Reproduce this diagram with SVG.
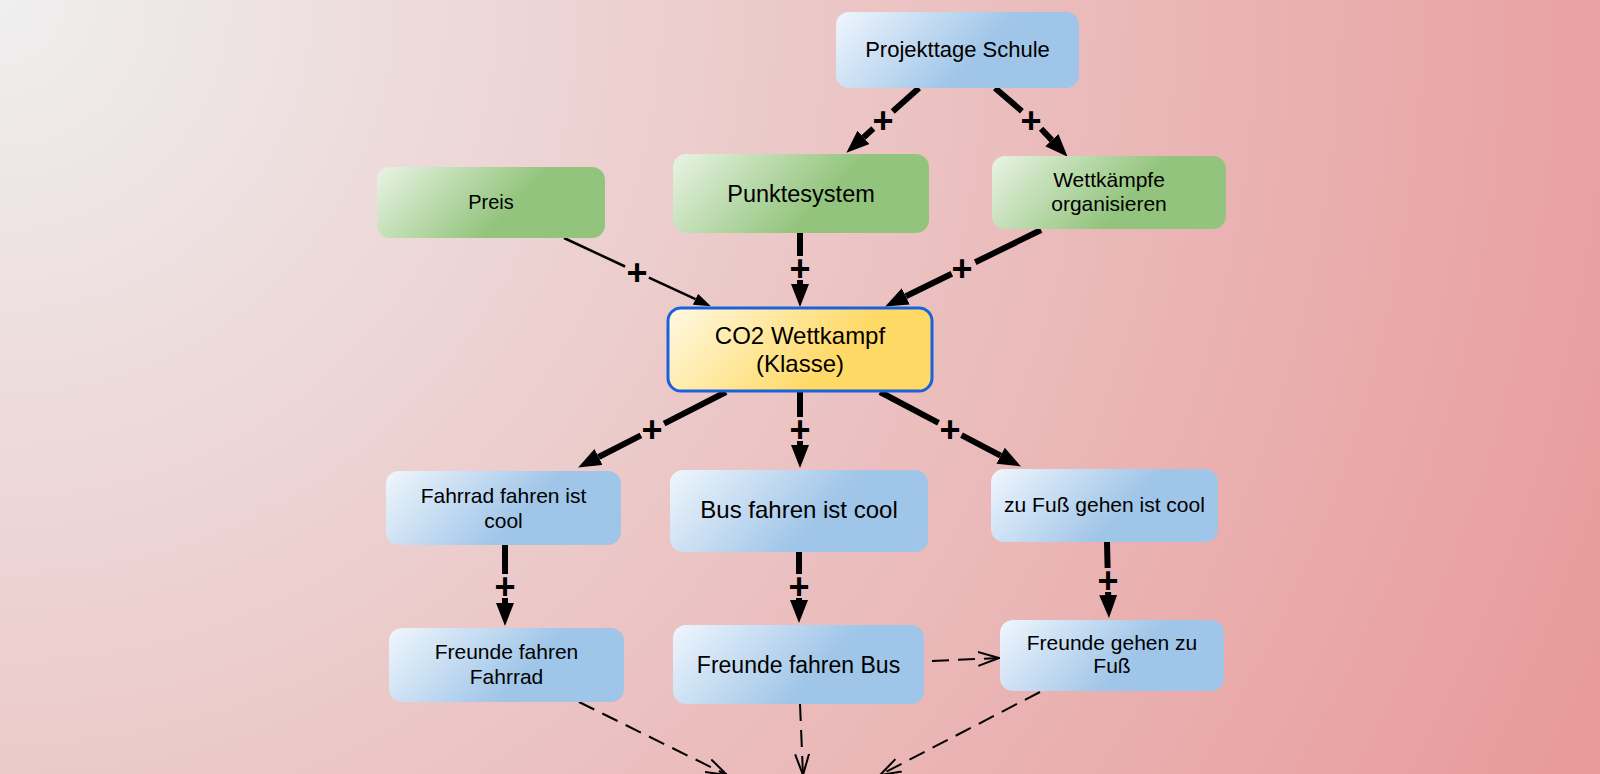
<svg xmlns="http://www.w3.org/2000/svg" width="1600" height="774" viewBox="0 0 1600 774">
<defs>
<radialGradient id="bg" gradientUnits="userSpaceOnUse" cx="0" cy="0" r="1850">
<stop offset="0" stop-color="#efefef"/>
<stop offset="1" stop-color="#e89595"/>
</radialGradient>
<linearGradient id="gBlue" x1="0" y1="0" x2="1" y2="0.3">
<stop offset="0" stop-color="#f0f6fd"/>
<stop offset="0.7" stop-color="#9fc5e8"/>
<stop offset="1" stop-color="#9fc5e8"/>
</linearGradient>
<linearGradient id="gGreen" x1="0" y1="0" x2="1" y2="0.3">
<stop offset="0" stop-color="#e9f4e4"/>
<stop offset="0.7" stop-color="#93c47d"/>
<stop offset="1" stop-color="#93c47d"/>
</linearGradient>
<linearGradient id="gYellow" x1="0" y1="0" x2="1" y2="0.3">
<stop offset="0" stop-color="#fff9e3"/>
<stop offset="0.75" stop-color="#ffd966"/>
<stop offset="1" stop-color="#ffd966"/>
</linearGradient>
<marker id="arr" markerUnits="userSpaceOnUse" markerWidth="24" markerHeight="18" refX="0" refY="9" orient="auto" viewBox="0 0 24 18">
<path d="M0,0 L23,9 L0,18 z" fill="#000"/>
</marker>
<marker id="arrS" markerUnits="userSpaceOnUse" markerWidth="18" markerHeight="14" refX="0" refY="7" orient="auto" viewBox="0 0 18 14">
<path d="M0,1 L17,7 L0,13 z" fill="#000"/>
</marker>
<marker id="open" markerUnits="userSpaceOnUse" markerWidth="24" markerHeight="18" refX="21" refY="9" orient="auto" viewBox="0 0 24 18">
<path d="M0,2 L21,9 L0,16" fill="none" stroke="#000" stroke-width="2"/>
</marker>
<style>
.n text{font-family:"Liberation Sans",Arial,sans-serif;fill:#000;text-anchor:middle}
.b rect{fill:url(#gBlue)}
.g rect{fill:url(#gGreen)}
.thick{fill:none;stroke:#000;stroke-width:6;marker-end:url(#arr)}
.thin{fill:none;stroke:#000;stroke-width:2.5;marker-end:url(#arrS)}
.dash{fill:none;stroke:#000;stroke-width:2;stroke-dasharray:17 9;marker-end:url(#open)}
.lbl{font-family:"Liberation Sans",Arial,sans-serif;font-weight:bold;font-size:36px;text-anchor:middle;fill:#000}
</style>
</defs>
<rect x="0" y="0" width="1600" height="774" fill="url(#bg)"/>

<g id="connectors">
<path class="thick" d="M919,88 L892.7,111.4 M873.3,128.6 L863.5,137.4"/>
<text class="lbl" x="883" y="133">+</text>
<path class="thick" d="M995,88 L1021.9,111.2 M1041.1,128.8 L1051.8,140.1"/>
<text class="lbl" x="1031" y="133">+</text>
<path class="thin" d="M564,238 L625.1,266.5 M648.9,277.6 L695.5,299.2"/>
<text class="lbl" x="637" y="285">+</text>
<path class="thick" d="M800,233 L800,256 M800,280 L800,284"/>
<text class="lbl" x="800" y="281">+</text>
<path class="thick" d="M1041,230 L975.2,262.3 M951.8,273.7 L905.8,296.3"/>
<text class="lbl" x="962" y="281">+</text>
<path class="thick" d="M726,392 L664.1,423.6 M640.9,435.4 L598.6,457"/>
<text class="lbl" x="652" y="442">+</text>
<path class="thick" d="M800,392 L800,417 M800,441 L800,445"/>
<text class="lbl" x="800" y="442">+</text>
<path class="thick" d="M880,392 L938.5,422.9 M961.5,435.1 L1000.6,455.7"/>
<text class="lbl" x="950" y="442">+</text>
<path class="thick" d="M505,545 L505,574 M505,598 L505,603"/>
<text class="lbl" x="505" y="599">+</text>
<path class="thick" d="M799,552 L799,574 M799,598 L799,600"/>
<text class="lbl" x="799" y="599">+</text>
<path class="thick" d="M1107,542 L1107.6,568 M1108.1,592 L1108.2,595"/>
<text class="lbl" x="1108" y="593">+</text>
<path class="dash" d="M932,661 L999,658"/>
<path class="dash" d="M579,702 L727,775"/>
<path class="dash" d="M800,704 L803,775"/>
<path class="dash" d="M1040,692 L880,775"/>
</g>

<g id="n-projekttage" class="n b">
<rect x="836" y="12" width="243" height="76" rx="13"/>
<text x="957.5" y="57" font-size="22">Projekttage Schule</text>
</g>
<g id="n-preis" class="n g">
<rect x="377" y="167" width="228" height="71" rx="13"/>
<text x="491" y="209" font-size="20">Preis</text>
</g>
<g id="n-punktesystem" class="n g">
<rect x="673" y="154" width="256" height="79" rx="13"/>
<text x="801" y="202" font-size="23.5">Punktesystem</text>
</g>
<g id="n-wettkaempfe" class="n g">
<rect x="992" y="156" width="234" height="73" rx="13"/>
<text x="1109" y="187" font-size="21">Wettkämpfe</text>
<text x="1109" y="211" font-size="21">organisieren</text>
</g>
<g id="n-co2" class="n">
<rect x="668" y="308" width="264" height="83" rx="13" fill="url(#gYellow)" stroke="#1a62db" stroke-width="3"/>
<text x="800" y="344" font-size="24">CO2 Wettkampf</text>
<text x="800" y="372" font-size="24">(Klasse)</text>
</g>
<g id="n-fahrrad" class="n b">
<rect x="386" y="471" width="235" height="74" rx="13"/>
<text x="503.5" y="503" font-size="21">Fahrrad fahren ist</text>
<text x="503.5" y="528" font-size="21">cool</text>
</g>
<g id="n-bus" class="n b">
<rect x="670" y="470" width="258" height="82" rx="13"/>
<text x="799" y="518" font-size="24">Bus fahren ist cool</text>
</g>
<g id="n-fuss" class="n b">
<rect x="991" y="469" width="227" height="73" rx="13"/>
<text x="1104.5" y="512" font-size="21">zu Fuß gehen ist cool</text>
</g>
<g id="n-freunde-fahrrad" class="n b">
<rect x="389" y="628" width="235" height="74" rx="13"/>
<text x="506.5" y="659" font-size="21">Freunde fahren</text>
<text x="506.5" y="684" font-size="21">Fahrrad</text>
</g>
<g id="n-freunde-bus" class="n b">
<rect x="673" y="625" width="251" height="79" rx="13"/>
<text x="798.5" y="673" font-size="23">Freunde fahren Bus</text>
</g>
<g id="n-freunde-fuss" class="n b">
<rect x="1000" y="620" width="224" height="71" rx="13"/>
<text x="1112" y="650" font-size="21">Freunde gehen zu</text>
<text x="1112" y="673" font-size="21">Fuß</text>
</g>
</svg>
